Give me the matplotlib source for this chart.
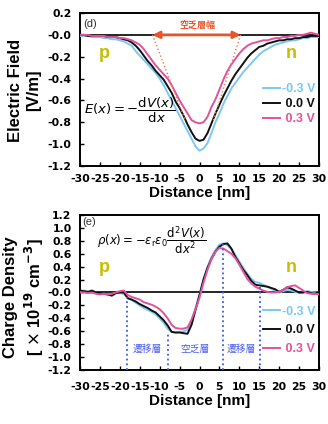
import matplotlib
matplotlib.use("Agg")
import matplotlib.pyplot as plt
import numpy as np

# distance grid [nm], 1 nm step
distance = list(range(-30, 31))

# electric field [V/m] for each bias
field_m03 = [-0.01, -0.01, -0.01, -0.02, -0.02, -0.02, -0.03, -0.03, -0.04, -0.04,
             -0.05, -0.06, -0.08, -0.10, -0.15, -0.19, -0.23, -0.27, -0.31, -0.35,
             -0.40, -0.46, -0.53, -0.60, -0.67, -0.74, -0.81, -0.88, -0.95, -1.02,
             -1.06,
             -1.04, -0.99, -0.90, -0.80, -0.72, -0.63, -0.56, -0.49, -0.44, -0.39,
             -0.34, -0.30, -0.26, -0.22, -0.18, -0.15, -0.13, -0.11, -0.09, -0.08,
             -0.07, -0.06, -0.05, -0.05, -0.04, -0.03, -0.03, -0.02, -0.02, -0.02]
field_00 = [0.00, 0.00, -0.01, -0.01, -0.01, -0.01, -0.01, -0.02, -0.02, -0.02,
            -0.03, -0.04, -0.05, -0.07, -0.10, -0.14, -0.19, -0.24, -0.28, -0.33,
            -0.37, -0.41, -0.47, -0.53, -0.61, -0.67, -0.74, -0.82, -0.89, -0.95,
            -0.97,
            -0.96, -0.90, -0.81, -0.72, -0.64, -0.56, -0.49, -0.42, -0.36, -0.31,
            -0.26, -0.21, -0.17, -0.14, -0.11, -0.10, -0.08, -0.07, -0.06, -0.05,
            -0.05, -0.04, -0.04, -0.03, -0.03, -0.02, -0.02, -0.01, -0.01, -0.01]
field_p03 = [0.00, 0.00, 0.00, -0.01, -0.01, -0.01, -0.01, -0.02, -0.02, -0.02,
             -0.03, -0.03, -0.04, -0.05, -0.07, -0.09, -0.13, -0.18, -0.23, -0.28,
             -0.32, -0.36, -0.40, -0.46, -0.53, -0.60, -0.66, -0.72, -0.78, -0.80,
             -0.81,
             -0.80, -0.75, -0.66, -0.59, -0.50, -0.41, -0.33, -0.27, -0.22, -0.17,
             -0.13, -0.10, -0.08, -0.07, -0.06, -0.05, -0.05, -0.04, -0.03, -0.03,
             -0.02, -0.02, -0.01, -0.01, 0.00, 0.00, 0.01, 0.02, 0.01, 0.00]

# charge density [x 1e19 cm^-3]
rho_m03 = [0.02, 0.03, 0.01, -0.01, 0.00, -0.02, -0.02, -0.04, -0.03, -0.01,
           -0.01, -0.02, -0.08, -0.12, -0.16, -0.20, -0.24, -0.27, -0.30, -0.34,
           -0.40, -0.47, -0.56, -0.61, -0.62, -0.61, -0.60, -0.58, -0.44, -0.24,
           -0.03,
           0.21, 0.40, 0.55, 0.66, 0.74, 0.76, 0.73, 0.67, 0.58, 0.48,
           0.38, 0.29, 0.21, 0.16, 0.15, 0.12, 0.09, 0.06, 0.03, 0.00,
           0.02, 0.04, 0.03, 0.01, -0.01, 0.00, 0.02, 0.01, 0.00, 0.00]
rho_00 = [0.03, 0.02, 0.01, 0.03, 0.00, -0.01, -0.02, -0.03, -0.05, -0.01,
          0.00, 0.00, -0.09, -0.11, -0.14, -0.18, -0.21, -0.24, -0.28, -0.31,
          -0.37, -0.43, -0.51, -0.61, -0.62, -0.62, -0.63, -0.64, -0.50, -0.27,
          -0.04,
          0.20, 0.38, 0.52, 0.63, 0.71, 0.75, 0.76, 0.68, 0.55, 0.45,
          0.35, 0.27, 0.18, 0.12, 0.11, 0.10, 0.09, 0.07, 0.05, 0.01,
          0.04, 0.08, 0.06, 0.03, 0.00, 0.00, 0.01, -0.01, -0.02, 0.01]
rho_p03 = [0.00, 0.00, -0.01, 0.00, -0.02, -0.03, -0.02, -0.03, -0.02, 0.00,
           0.02, 0.03, -0.04, -0.07, -0.09, -0.11, -0.15, -0.17, -0.19, -0.22,
           -0.26, -0.32, -0.40, -0.50, -0.55, -0.56, -0.56, -0.54, -0.42, -0.26,
           -0.08,
           0.15, 0.35, 0.52, 0.63, 0.69, 0.68, 0.64, 0.60, 0.53, 0.43,
           0.32, 0.21, 0.14, 0.09, 0.06, 0.03, 0.01, 0.00, 0.00, 0.01,
           0.04, 0.08, 0.10, 0.11, 0.07, 0.03, -0.01, -0.02, -0.02, -0.03]

bias_labels = ["-0.3 V", " 0.0 V", " 0.3 V"]
colors = ["#7cc8f2", "#111111", "#e2529a"]

# depletion width guides (panel d)
tangent_left_x, tangent_left_y = [-11.8, -3.6], [0.0, -0.78]
tangent_right_x, tangent_right_y = [10.3, 3.4], [0.0, -0.79]
depletion_span = [-11.8, 10.3]

# layer boundaries (panel e)
boundary_x = [-18.3, -7.8, 5.8, 15.2]
boundary_top = [-0.07, -0.62, 0.75, 0.09]
layer_names = ["遷移層", "空乏層", "遷移層"]
layer_x = [-13.2, -1.0, 10.6]

tick_font = {"family": "DejaVu Sans", "weight": "bold", "size": 7.8}
label_font = {"family": "Liberation Sans", "weight": "bold"}
cjk = ["Noto Sans CJK JP", "DejaVu Sans"]
pn_color = "#c8bd00"
legend_prop = {"family": "Liberation Sans", "weight": "bold", "size": 9}

fig = plt.figure(figsize=(3.28, 4.24), dpi=100)
ax1 = fig.add_axes([0.2439, 0.6085, 0.7287, 0.3608])
ax2 = fig.add_axes([0.2439, 0.1274, 0.7287, 0.3656])

for ax in (ax1, ax2):
    ax.axhline(0, color="black", lw=1.2, zorder=1)
    for s in ax.spines.values():
        s.set_linewidth(1.4)
    ax.set_xlim(-30, 30)
    ax.set_xticks(np.arange(-30, 31, 5))
    ax.tick_params(direction="in", length=3, width=1, top=False, right=False)

# ---- (d) electric field
for ys, c, lab in zip([field_m03, field_00, field_p03], colors, bias_labels):
    ax1.plot(distance, ys, color=c, lw=1.4, label=lab, zorder=3)
ax1.set_ylim(-1.2, 0.2)
ax1.set_yticks(np.round(np.arange(-1.2, 0.21, 0.2), 1))
ax1.set_yticklabels(["%.1f" % v for v in np.arange(-1.2, 0.21, 0.2)], **tick_font)
ax1.set_xticklabels([str(v) for v in range(-30, 31, 5)], **tick_font)
ax1.tick_params(axis="both", pad=6)

ax1.plot(tangent_left_x, tangent_left_y, ls=":", color="#f07848", lw=1.0, zorder=4)
ax1.plot(tangent_right_x, tangent_right_y, ls=":", color="#f07848", lw=1.0, zorder=4)
ax1.annotate("", xy=(depletion_span[0], 0.0), xytext=(depletion_span[1], 0.0),
             arrowprops=dict(arrowstyle="<|-|>", color="#e8552a", lw=2.0,
                             mutation_scale=10, shrinkA=0, shrinkB=0), zorder=5)
ax1.text(-0.6, 0.09, "空乏層幅", color="#e8552a", fontsize=6.5, fontweight="bold",
         family=cjk, ha="center", va="center")
ax1.text(-29.2, 0.1, "(d)", fontsize=8, color="#333333", family="Liberation Sans",
         va="center")
ax1.text(-23.9, -0.17, "p", color=pn_color, fontsize=13, ha="center", va="center", **label_font)
ax1.text(23.1, -0.17, "n", color=pn_color, fontsize=13, ha="center", va="center", **label_font)
ax1.text(-28.9, -0.69, r"$E(x) = -\dfrac{\mathrm{d}V(x)}{\mathrm{d}x}$", fontsize=9.5,
         va="center")
ax1.set_xlabel("Distance [nm]", fontsize=11, labelpad=1, **label_font)
fig.text(0.075, 0.787, "Electric Field\n[V/m]", rotation=90, ha="center", va="center",
         fontsize=12, linespacing=1.25, multialignment="center", **label_font)

ax1.legend(loc="center left", bbox_to_anchor=(0.72, 0.405), frameon=False,
           handlelength=1.3, handletextpad=0.2, labelspacing=0.25,
           labelcolor="linecolor", prop=legend_prop)

# ---- (e) charge density
for ys, c, lab in zip([rho_m03, rho_00, rho_p03], colors, bias_labels):
    ax2.plot(distance, ys, color=c, lw=1.4, label=lab, zorder=3)
ax2.set_ylim(-1.2, 1.2)
ax2.set_yticks(np.round(np.arange(-1.2, 1.21, 0.2), 1))
ax2.set_yticklabels(["%.1f" % v for v in np.arange(-1.2, 1.21, 0.2)], **tick_font)
ax2.set_xticklabels([str(v) for v in range(-30, 31, 5)], **tick_font)
ax2.tick_params(axis="y", pad=6)
ax2.tick_params(axis="x", pad=9)

ax2.vlines(boundary_x, -1.2, boundary_top, colors="#3a55ff", linestyles=":", lw=1.3, zorder=4)
for name, xc in zip(layer_names, layer_x):
    ax2.text(xc, -0.88, name, color="#4a5ef0", fontsize=7, family=cjk,
             ha="center", va="center")
ax2.text(-29.4, 1.09, "(e)", fontsize=8, color="#333333", family="Liberation Sans",
         va="center")
ax2.text(-23.9, 0.39, "p", color=pn_color, fontsize=13, ha="center", va="center", **label_font)
ax2.text(23.1, 0.39, "n", color=pn_color, fontsize=13, ha="center", va="center", **label_font)
ax2.text(-25.8, 0.80,
         r"$\rho(x) = -\varepsilon_\mathrm{r}\varepsilon_0\dfrac{\mathrm{d}^2V(x)}{\mathrm{d}x^2}$",
         fontsize=8.5, va="center")
ax2.set_xlabel("Distance [nm]", fontsize=11, labelpad=1, **label_font)
fig.text(0.075, 0.30, "Charge Density\n[ $\\times$ 10$^{\\mathbf{19}}$ cm$^{\\mathbf{-3}}$]",
         rotation=90, ha="center", va="center", fontsize=12, linespacing=1.25,
         multialignment="center", **label_font)

ax2.legend(loc="center left", bbox_to_anchor=(0.72, 0.255), frameon=False,
           handlelength=1.3, handletextpad=0.2, labelspacing=0.55,
           labelcolor="linecolor", prop=legend_prop)

fig.savefig("out.png", dpi=100)
